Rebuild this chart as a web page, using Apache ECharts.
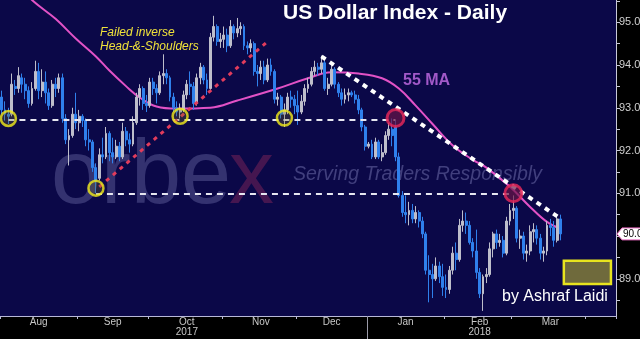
<!DOCTYPE html>
<html><head><meta charset="utf-8">
<script src="https://cdn.jsdelivr.net/npm/echarts@6/dist/echarts.min.js"></script>
<style>html,body{margin:0;padding:0;background:#000;}#c{width:640px;height:339px;}</style>
</head><body><div id="c"></div>
<script>
// ---- DATA ----
const startDate = '2017-08-01';
const dayCount = 183; // weekdays shown on the axis (Aug 2017 - mid Apr 2018)
const monthNames = ['Jan','Feb','Mar','Apr','May','Jun','Jul','Aug','Sep','Oct','Nov','Dec'];
const labeledMonths = ['2017-8','2017-9','2017-10','2017-11','2017-12','2018-1','2018-2','2018-3'];
const yearUnder = {'2017-10':'2017','2018-2':'2018'};
// [open, close, low, high]
const candles = [
 [93.25,92.95,92.85,93.40],[92.95,92.85,92.70,93.15],[92.85,92.80,92.62,93.00],[92.85,93.55,92.80,93.80],[93.50,93.45,93.30,93.65],
 [93.45,93.75,93.35,93.95],[93.70,93.55,93.35,93.80],[93.55,93.40,93.20,93.70],[93.40,93.10,93.00,93.50],[93.10,93.45,93.05,93.60],
 [93.45,93.85,93.40,94.10],[93.85,93.40,93.20,94.05],[93.40,93.60,93.25,93.90],[93.60,93.35,93.10,93.85],[93.35,93.05,92.95,93.45],
 [93.05,93.55,93.00,93.65],[93.55,93.45,93.25,93.70],[93.45,93.70,93.35,93.80],[93.70,92.75,92.65,93.80],[92.75,92.25,92.15,92.85],
 [92.25,92.35,91.65,92.50],[92.35,92.85,92.30,93.00],[92.85,92.65,92.50,93.35],
 [92.65,92.80,92.45,92.95],[92.80,92.70,92.55,92.85],[92.70,92.25,92.10,92.75],[92.25,92.20,92.00,92.50],[92.20,91.60,91.50,92.25],
 [91.60,91.30,91.00,91.70],[91.35,91.90,91.30,92.05],[91.90,91.85,91.70,92.30],[91.85,92.40,91.80,92.55],[92.40,91.95,91.75,92.45],
 [91.95,91.85,91.70,92.30],[91.85,92.10,91.80,92.25],[92.10,91.85,91.75,92.20],[91.85,92.45,91.80,92.65],[92.45,92.25,92.10,92.55],
 [92.25,92.15,91.95,92.40],[92.15,92.65,92.10,92.80],[92.65,93.25,92.60,93.35],[93.25,93.45,93.05,93.55],[93.45,93.10,92.95,93.50],
 [93.10,93.05,92.90,93.30],
 [93.05,93.60,93.00,93.70],[93.60,93.45,93.30,93.70],[93.45,93.35,93.10,93.55],[93.35,93.75,93.30,93.85],[93.75,93.80,93.55,94.25],
 [93.80,93.70,93.55,93.90],[93.70,93.25,93.15,93.75],[93.25,93.00,92.90,93.35],[93.00,92.90,92.80,93.15],[92.90,92.95,92.75,93.10],
 [92.95,93.30,92.90,93.40],[93.30,93.55,93.20,93.65],[93.55,93.50,93.30,93.85],[93.50,93.10,92.95,93.60],[93.10,93.70,93.05,93.80],
 [93.70,93.95,93.55,94.05],[93.95,93.65,93.55,94.00],[93.65,93.45,93.30,93.80],[93.45,94.65,93.40,94.75],[94.65,94.90,94.55,95.15],
 [94.90,94.55,94.45,94.95],[94.55,94.60,94.40,94.75],
 [94.60,94.70,94.40,94.90],[94.70,94.45,94.30,94.85],[94.45,94.90,94.40,95.05],[94.90,94.75,94.60,94.95],[94.75,94.85,94.65,95.10],
 [94.85,94.90,94.70,95.00],[94.90,94.45,94.35,94.95],[94.45,94.40,94.25,94.55],[94.40,94.50,94.30,94.60],[94.50,93.85,93.75,94.55],
 [93.85,93.80,93.50,94.00],[93.80,93.95,93.65,94.10],[93.95,93.65,93.55,94.10],[93.65,94.00,93.60,94.15],[94.00,93.85,93.75,94.15],
 [93.85,93.20,93.10,93.90],[93.20,93.25,93.05,93.35],[93.25,92.85,92.75,93.30],[92.85,92.95,92.55,93.10],[92.95,93.25,92.85,93.35],
 [93.25,93.20,93.00,93.40],[93.20,93.05,92.85,93.30],
 [93.05,92.90,92.60,93.40],[92.90,93.15,92.85,93.30],[93.15,93.45,93.05,93.55],[93.45,93.55,93.35,93.70],[93.55,93.85,93.50,93.95],
 [93.85,93.95,93.75,94.10],[93.95,93.90,93.75,94.05],[93.90,94.05,93.80,94.22],[94.05,93.45,93.40,94.10],[93.45,93.55,93.30,93.70],
 [93.55,93.90,93.50,94.00],[93.90,93.55,93.45,93.95],[93.55,93.35,93.25,93.60],[93.35,93.20,93.05,93.45],[93.20,93.30,93.10,93.45],
 [93.30,93.35,93.15,93.45],[93.35,93.30,93.25,93.40],[93.30,93.20,93.10,93.40],[93.20,92.95,92.85,93.30],[92.95,92.55,92.45,93.00],
 [92.55,92.10,92.00,92.60],
 [92.10,92.15,92.05,92.20],[92.15,91.85,91.80,92.25],[91.85,92.20,91.80,92.30],[92.20,91.85,91.80,92.25],[91.85,91.95,91.75,92.15],
 [91.95,92.35,91.90,92.45],[92.35,92.50,92.25,92.65],[92.50,92.35,92.10,92.75],[92.55,91.85,91.75,92.70],[91.85,90.95,90.90,91.95],
 [90.95,90.55,90.45,91.05],[90.55,90.50,90.30,90.95],[90.50,90.60,90.25,90.80],[90.60,90.40,90.30,90.75],[90.40,90.55,90.30,90.70],
 [90.55,90.35,90.20,90.60],[90.35,90.05,89.95,90.45],[90.05,89.20,89.10,90.10],[89.20,89.10,88.45,89.55],[89.10,89.00,88.55,89.35],
 [89.00,89.30,88.95,89.50],[89.30,89.05,88.90,89.40],[89.05,88.80,88.60,89.35],
 [88.80,88.75,88.55,89.10],[88.75,89.20,88.65,89.30],[89.20,89.60,89.10,89.75],[89.60,89.45,89.20,89.85],[89.45,90.25,89.40,90.40],
 [90.25,90.35,90.10,90.60],[90.35,90.25,90.05,90.55],[90.25,89.85,89.80,90.35],[89.85,89.65,89.50,89.95],[89.65,89.15,89.00,90.15],
 [89.15,88.65,88.55,89.25],[88.65,89.05,88.25,89.10],[89.05,89.10,88.90,89.25],[89.10,89.70,89.05,89.85],[89.70,90.05,89.50,90.10],
 [90.05,89.85,89.70,90.15],[89.85,89.90,89.75,90.05],[89.90,89.60,89.50,90.00],[89.60,90.35,89.55,90.45],[90.35,90.60,90.25,90.75],
 [90.60,90.65,90.40,90.95],[90.65,89.95,89.85,90.70],[89.95,90.00,89.70,90.15],[90.00,89.60,89.45,90.10],[89.60,89.65,89.40,89.80],
 [89.65,90.10,89.55,90.25],[90.10,90.15,89.85,90.30],[90.15,89.95,89.80,90.25],[89.95,89.60,89.45,90.05],[89.60,89.65,89.40,89.75],
 [89.65,90.25,89.55,90.35],[90.25,90.20,90.00,90.40],[90.20,89.90,89.75,90.35],[89.90,90.40,89.85,90.45],[90.40,90.05,89.90,90.50]
];
// 55-day moving average: [day index, value]
const maIdx = [4,9,16,22,28,32,37,41,46,52,62,70,82,91,98,106,113,118,123,128,134,140,144,151,157,162,166];
const maVal = [95.95,95.52,95.08,94.62,94.20,93.87,93.50,93.24,93.03,92.98,93.00,93.17,93.45,93.69,93.83,93.80,93.69,93.45,93.05,92.62,92.12,91.78,91.60,91.15,90.68,90.33,90.17];
const yellowCircles = [[2,92.75],[28,91.12],[53,92.80],[84,92.76]];
const redCircles = [[117,92.76],[152,91.00]];
const upperSupport = 92.72, lowerSupport = 91.00;
const upperSupportRange = [2,117], lowerSupportRange = [28,152];
const risingLine = [[29,91.15],[79,94.55]];
const fallingLine = [[95,94.20],[166,90.41]];
const targetBox = {x:[167,181], y:[89.42,88.88]};
const lastPrice = 90.05;
const yTicks = [88.5,89,89.5,90,90.5,91,91.5,92,92.5,93,93.5,94,94.5,95,95.5];
const yLabels = [89,91,92,93,94,95];

// ---- categories (weekdays) ----
const cats = [], ym = [];
let d = new Date(startDate + 'T12:00:00Z');
while (cats.length < dayCount) {
  const wd = d.getUTCDay();
  if (wd !== 0 && wd !== 6) {
    cats.push(d.toISOString().slice(0,10));
    ym.push(d.getUTCFullYear() + '-' + (d.getUTCMonth()+1));
  }
  d = new Date(d.getTime() + 86400000);
}
const monthStart = new Set(), monthFirst = {}, monthCount = {};
ym.forEach((k,i) => {
  if (i === 0 || ym[i-1] !== k) { monthStart.add(i); monthFirst[k] = i; monthCount[k] = 0; }
  monthCount[k]++;
});
const labelAt = {};
labeledMonths.forEach(k => {
  const idx = monthFirst[k] + Math.floor(monthCount[k]/2);
  const m = parseInt(k.split('-')[1]) - 1;
  labelAt[idx] = monthNames[m] + (yearUnder[k] ? '\n' + yearUnder[k] : '');
});

const chart = echarts.init(document.getElementById('c'), null, {renderer:'canvas'});
const font = "'Liberation Sans', Arial, sans-serif";
const narrow = "'Liberation Sans Narrow','Liberation Sans',sans-serif";
const option = {
  backgroundColor: '#000000',
  animation: false,
  grid: {left:0, top:0, right:24, bottom:23, show:true, backgroundColor:'#0b0848', borderWidth:0, z:0, containLabel:false, outerBoundsMode:'none'},
  xAxis: {
    type:'category', data:cats, boundaryGap:true,
    axisLine:{show:true, lineStyle:{color:'#b8b8d8', width:1}},
    axisTick:{show:true, length:3, interval:(i)=>monthStart.has(i), lineStyle:{color:'#b8b8d8'}},
    axisLabel:{interval:(i)=>labelAt[i]!==undefined, formatter:(v,i)=>labelAt[i]||'', color:'#c8c8c8', fontSize:10, fontFamily:narrow, margin:1, lineHeight:10, hideOverlap:false},
    splitLine:{show:false}
  },
  yAxis: {
    type:'value', position:'right', min:88.13, max:95.52, scale:true,
    axisLine:{show:true, lineStyle:{color:'#c8c8d8'}},
    axisTick:{show:true, length:4, customValues:yTicks, lineStyle:{color:'#c8c8d8'}},
    axisLabel:{customValues:yLabels, formatter:(v)=>v.toFixed(2), color:'#d0d0d0', fontSize:11, fontFamily:narrow, margin:3},
    splitLine:{show:false}
  },
  series: [
    {
      type:'candlestick', data:candles, barWidth:2.4, z:3,
      itemStyle:{color:'#bebecb', color0:'#2f80ec', borderColor:'#bebecb', borderColor0:'#2f80ec', borderWidth:1},
      markLine:{
        silent:true, symbol:['none','none'], animation:false,
        data:[
          [{coord:[upperSupportRange[0],upperSupport], lineStyle:{color:'#e6e6f0', width:2, type:[6,5]}},{coord:[upperSupportRange[1],upperSupport]}],
          [{coord:[lowerSupportRange[0],lowerSupport], lineStyle:{color:'#e6e6f0', width:2, type:[6,5]}},{coord:[lowerSupportRange[1],lowerSupport]}],
          [{coord:risingLine[0], lineStyle:{color:'#e23c5c', width:3, type:[4,5]}},{coord:risingLine[1]}],
          [{coord:fallingLine[0], lineStyle:{color:'#ffffff', width:4, type:[5,5]}},{coord:fallingLine[1]}]
        ],
        label:{show:false}
      },
      markArea:{
        silent:true,
        data:[[{coord:[targetBox.x[0], targetBox.y[0]], itemStyle:{color:'#6f6a3c', borderColor:'#e8e41e', borderWidth:2.5}},{coord:[targetBox.x[1], targetBox.y[1]]}]]
      }
    },
    {
      type:'line', data:maIdx.map((x,i)=>[x, maVal[i]]), smooth:0.4, symbol:'none', z:2,
      lineStyle:{color:'#e252c6', width:2}, clip:true
    },
    {
      type:'scatter', data:yellowCircles, symbol:'circle', symbolSize:15, z:5,
      itemStyle:{color:'rgba(120,110,40,0.35)', borderColor:'#f2ec1a', borderWidth:2.5}
    },
    {
      type:'scatter', data:redCircles, symbol:'circle', symbolSize:17, z:5,
      itemStyle:{color:'rgba(110,20,70,0.85)', borderColor:'#e8285a', borderWidth:3}
    }
  ],
  graphic: [
    {type:'text', z:1, left:51, top:133, style:{text:'orbe', font:"normal 90px "+font, fill:'rgba(140,140,200,0.32)'}},
    {type:'text', z:1, left:229, top:133, style:{text:'x', font:"normal 90px "+font, fill:'rgba(140,40,90,0.45)'}},
    {type:'text', z:1, left:293, top:165, style:{text:'Serving Traders Responsibly', font:"italic 19.5px "+font, fill:'rgba(140,140,200,0.42)'}},
    {type:'text', z:10, left:283, top:3, style:{text:'US Dollar Index - Daily', font:"bold 21px "+font, fill:'#ffffff'}},
    {type:'text', z:10, left:403, top:73, style:{text:'55 MA', font:"bold 16px "+font, fill:'#a159c8'}},
    {type:'text', z:10, left:100, top:26, style:{text:'Failed inverse\nHead-&-Shoulders', font:"italic 12px "+font, fill:'#f0e23a', lineHeight:14}},
    {type:'text', z:10, left:502, top:289, style:{text:'by Ashraf Laidi', font:"normal 16px "+font, fill:'#ffffff'}}
  ]
};
chart.setOption(option);
// year separator below the axis at the first day of 2018
const jan = ym.indexOf('2018-1');
const x0 = chart.convertToPixel({xAxisIndex:0}, jan);
const x1 = chart.convertToPixel({xAxisIndex:0}, jan+1);
const sx = Math.round(x0 - (x1-x0)/2) + 0.5;
// last price tag on the value axis
const ty = chart.convertToPixel({yAxisIndex:0}, lastPrice);
const gr = chart.getModel().getComponent('grid').coordinateSystem.getRect();
const ax = gr.x + gr.width;
chart.setOption({graphic: option.graphic.concat([
  {type:'line', z:10, shape:{x1:sx, y1:316, x2:sx, y2:339}, style:{stroke:'#9a9aa8', lineWidth:1}},
  {type:'polygon', z:20, shape:{points:[[ax+1,ty],[ax+6,ty-6],[650,ty-6],[650,ty+6],[ax+6,ty+6]]}, style:{fill:'#ffffff', stroke:'#e060b8', lineWidth:1}},
  {type:'text', z:21, x:ax+7, y:ty, style:{text:lastPrice.toFixed(2), font:"10px "+narrow, fill:'#000000', verticalAlign:'middle'}}
])});
</script></body></html>
